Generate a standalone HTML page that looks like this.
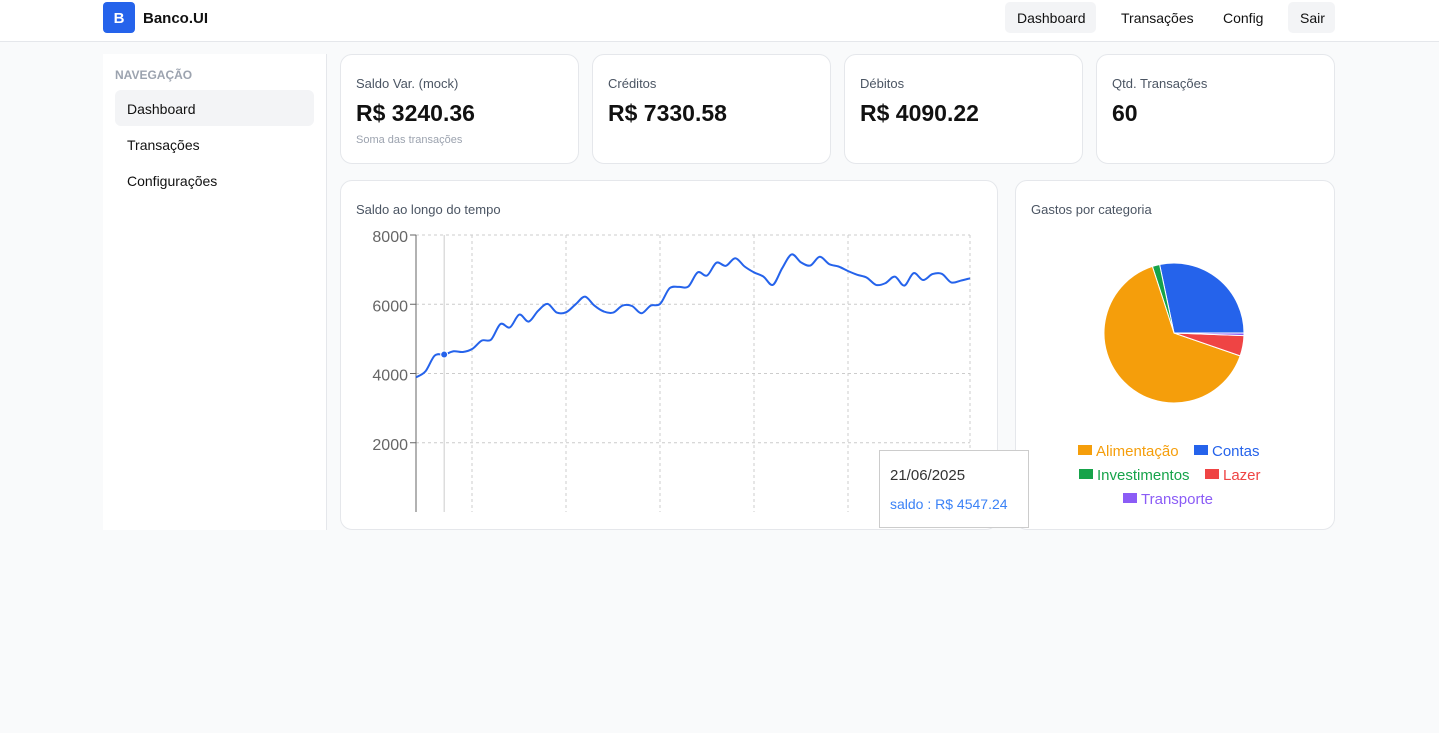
<!DOCTYPE html>
<html><head><meta charset="utf-8">
<style>
*{box-sizing:border-box;margin:0;padding:0}
body{width:1439px;height:733px;background:#f9fafb;font-family:"Liberation Sans",sans-serif;color:#111;position:relative;overflow:hidden}
.abs{position:absolute}
header{position:absolute;left:0;top:0;width:1439px;height:42px;background:#fff;border-bottom:1px solid #e5e7eb}
.logo{left:103px;top:2px;width:32px;height:31px;background:#2563eb;border-radius:4px;color:#fff;font-weight:bold;font-size:15px;text-align:center;line-height:33px}
.brand{left:143px;top:10px;font-size:15px;font-weight:bold}
.nav{top:2px;height:31px;line-height:33px;font-size:14px;padding:0 12px;border-radius:5px}
.side{left:103px;top:54px;width:224px;height:476px;background:#fff;border-right:1px solid #e5e7eb}
.card{background:#fff;border:1px solid #e5e7eb;border-radius:12px}
.lbl{font-size:13px;color:#4b5563}
.big{font-size:23px;font-weight:bold}
</style></head><body>
<header>
<div class="abs logo">B</div>
<div class="abs brand">Banco.UI</div>
<div class="abs nav" style="left:1005px;width:91px;background:#f3f4f6">Dashboard</div>
<div class="abs nav" style="left:1109px">Transações</div>
<div class="abs nav" style="left:1211px">Config</div>
<div class="abs nav" style="left:1288px;width:47px;background:#f3f4f6">Sair</div>
</header>
<div class="abs side">
<div class="abs" style="left:12px;top:14px;font-size:12px;font-weight:bold;color:#9ca3af">NAVEGAÇÃO</div>
<div class="abs" style="left:12px;top:36px;width:199px;height:36px;background:#f3f4f6;border-radius:6px;padding-left:12px;line-height:38px;font-size:14px">Dashboard</div>
<div class="abs" style="left:24px;top:83px;font-size:14px">Transações</div>
<div class="abs" style="left:24px;top:119px;font-size:14px">Configurações</div>
</div>
<div class="abs card" style="left:340px;top:54px;width:239px;height:110px">
<div class="abs lbl" style="left:15px;top:21px">Saldo Var. (mock)</div>
<div class="abs big" style="left:15px;top:45px">R$ 3240.36</div>
<div class="abs" style="left:15px;top:79px;font-size:11px;color:#9ca3af">Soma das transações</div></div>
<div class="abs card" style="left:592px;top:54px;width:239px;height:110px">
<div class="abs lbl" style="left:15px;top:21px">Créditos</div>
<div class="abs big" style="left:15px;top:45px">R$ 7330.58</div></div>
<div class="abs card" style="left:844px;top:54px;width:239px;height:110px">
<div class="abs lbl" style="left:15px;top:21px">Débitos</div>
<div class="abs big" style="left:15px;top:45px">R$ 4090.22</div></div>
<div class="abs card" style="left:1096px;top:54px;width:239px;height:110px">
<div class="abs lbl" style="left:15px;top:21px">Qtd. Transações</div>
<div class="abs big" style="left:15px;top:45px">60</div></div>

<div class="abs card" style="left:340px;top:180px;width:658px;height:350px">
<div class="abs lbl" style="left:15px;top:21px">Saldo ao longo do tempo</div></div>
<div class="abs card" style="left:1015px;top:180px;width:320px;height:350px">
<div class="abs lbl" style="left:15px;top:21px">Gastos por categoria</div></div>

<svg class="abs" style="left:0;top:0" width="1439" height="733">
<g id="line"></g><g id="pie"></g>
</svg>
<div class="abs" style="left:879px;top:450px;width:150px;height:78px;background:#fff;border:1px solid #ccc">
<div class="abs" style="left:10px;top:16px;font-size:15px;color:#333">21/06/2025</div>
<div class="abs" style="left:10px;top:45px;font-size:14px;color:#3b82f6">saldo : R$ 4547.24</div></div>

<script>
const saldo=[3890,4060,4520,4547,4640,4620,4710,4950,4980,5430,5330,5700,5500,5810,6010,5760,5770,6000,6220,5960,5790,5760,5960,5950,5740,5960,6010,6460,6500,6510,6920,6830,7200,7110,7330,7090,6920,6800,6560,7040,7440,7210,7120,7370,7160,7090,6960,6850,6770,6560,6610,6800,6540,6900,6700,6870,6880,6630,6680,6750];
const yTicks=[2000,4000,6000,8000];
const pieCats=["Contas","Investimentos","Alimentação","Lazer","Transporte"];
const pieVals=[28.3,1.7,64.7,4.7,0.6];
const pieColors=["#2563eb","#16a34a","#f59e0b","#ef4444","#8b5cf6"];
const NS="http://www.w3.org/2000/svg";
function mk(t,a,p){const e=document.createElementNS(NS,t);for(const k in a)e.setAttribute(k,a[k]);p.appendChild(e);return e;}
const L=document.getElementById('line');
const x0=416,x1=970,yTop=235,yBot=512;
const X=i=>x0+i*(x1-x0)/(saldo.length-1);
const Y=v=>yBot-(v/8000)*(yBot-yTop);
[472,566,660,754,848,970].forEach(x=>{const l=mk('line',{x1:x,x2:x,y1:yTop,y2:yBot,stroke:'#ccc','stroke-dasharray':'3 3'},L);});
yTicks.forEach(t=>{const l=mk('line',{x1:x0,x2:x1,y1:Y(t),y2:Y(t),stroke:'#ccc','stroke-dasharray':'3 3'},L);
mk('line',{x1:x0-6,x2:x0,y1:Y(t),y2:Y(t),stroke:'#666'},L);
const tx=mk('text',{x:x0-8,y:Y(t)+7,'text-anchor':'end','font-size':16,fill:'#666'},L);tx.textContent=t;
});
mk('line',{x1:x0,x2:x0,y1:yTop,y2:yBot,stroke:'#666'},L);
mk('line',{x1:X(3),x2:X(3),y1:yTop,y2:yBot,stroke:'#ccc'},L);
const pts=saldo.map((v,i)=>[X(i),Y(v)]);
let d='M'+pts[0][0]+','+pts[0][1];
for(let i=0;i<pts.length-1;i++){const p0=pts[Math.max(0,i-1)],p1=pts[i],p2=pts[i+1],p3=pts[Math.min(pts.length-1,i+2)];
const c1=[p1[0]+(p2[0]-p0[0])/6,p1[1]+(p2[1]-p0[1])/6],c2=[p2[0]-(p3[0]-p1[0])/6,p2[1]-(p3[1]-p1[1])/6];
d+=`C${c1[0].toFixed(1)},${c1[1].toFixed(1)} ${c2[0].toFixed(1)},${c2[1].toFixed(1)} ${p2[0].toFixed(1)},${p2[1].toFixed(1)}`;}
const p=mk('path',{d:d,fill:'none',stroke:'#2563eb','stroke-width':2,'stroke-linejoin':'round'},L);

const dot=mk('circle',{cx:X(3),cy:Y(saldo[3]),r:3.5,fill:'#2563eb',stroke:'#fff'},L);

const P=document.getElementById('pie');const cx=1174,cy=333,r=70;
const tot=pieVals.reduce((a,b)=>a+b,0);let a=0;
pieVals.forEach((v,i)=>{const a2=a+v/tot*360;const r1=a*Math.PI/180,r2=a2*Math.PI/180;
const dd=`M${cx},${cy}L${cx+r*Math.cos(r1)},${cy-r*Math.sin(r1)}A${r},${r} 0 ${a2-a>180?1:0} 0 ${cx+r*Math.cos(r2)},${cy-r*Math.sin(r2)}Z`;
const s=mk('path',{d:dd,fill:pieColors[i],stroke:'#fff','stroke-width':1},P);
a=a2;});
const leg=[[1078,450,2],[1194,450,0],[1079,474,1],[1205,474,3],[1123,498,4]];
leg.forEach(([x,y,i])=>{const g=mk('g',{},P);
mk('rect',{x:x,y:y-5,width:14,height:10,fill:pieColors[i]},g);
const t=mk('text',{x:x+18,y:y+6,'font-size':15,fill:pieColors[i]},g);t.textContent=pieCats[i];});
</script>
</body></html>
